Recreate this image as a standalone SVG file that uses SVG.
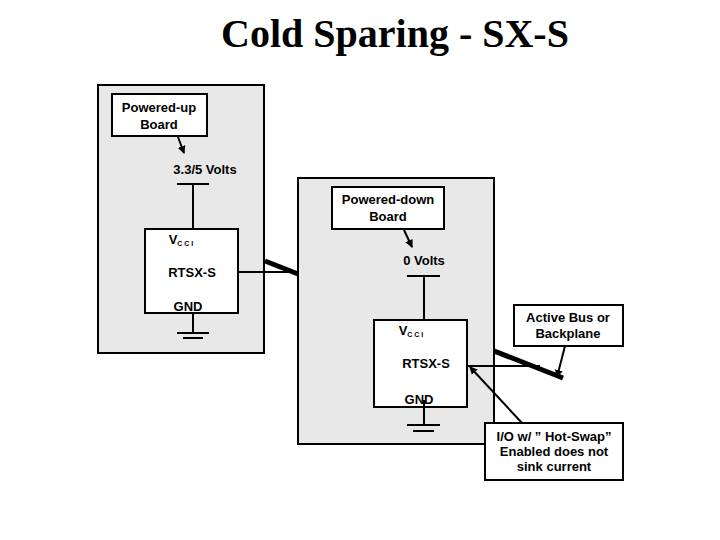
<svg xmlns="http://www.w3.org/2000/svg" width="720" height="540" viewBox="0 0 720 540">
<style>
.pan{fill:#e8e8e8;stroke:#000;stroke-width:2}
.box{fill:#fff;stroke:#000;stroke-width:2}
.t{font-family:"Liberation Sans",Arial,sans-serif;font-size:13px;font-weight:bold;text-anchor:middle;fill:#000}
.w{stroke:#000;stroke-width:2;fill:none}
.sub{font-size:7px}
</style>
<defs>
<marker id="ah" markerWidth="8" markerHeight="8" refX="7" refY="4" orient="auto" markerUnits="userSpaceOnUse"><path d="M0,0 L8,4 L0,8 z" fill="#000"/></marker>
</defs>
<rect width="720" height="540" fill="#fff"/>
<text x="395" y="47" font-family="Liberation Serif,serif" font-size="40" font-weight="bold" text-anchor="middle">Cold Sparing - SX-S</text>
<g id="bus"><line x1="265" y1="261" x2="563" y2="378" stroke="#000" stroke-width="5"/></g>
<g id="left-board">
<rect class="pan" x="98" y="85" width="166" height="268"/>
<rect class="box" x="112" y="94" width="95" height="42"/>
<text class="t" x="159" y="112">Powered-up</text><text class="t" x="159" y="129">Board</text>
<text class="t" x="205" y="174">3.3/5 Volts</text>
<rect class="box" x="145" y="229" width="93" height="84"/>
<text class="t" x="181" y="244">V<tspan class="sub" dy="2">C C I</tspan></text>
<text class="t" x="192" y="277">RTSX-S</text>
<text class="t" x="188" y="311">GND</text>
</g>
<g id="right-board">
<rect class="pan" x="298" y="178" width="196" height="266"/>
<rect class="box" x="332" y="187" width="112" height="42"/>
<text class="t" x="388" y="204">Powered-down</text><text class="t" x="388" y="221">Board</text>
<text class="t" x="424" y="265">0 Volts</text>
<rect class="box" x="374" y="320" width="93" height="87"/>
<text class="t" x="411" y="335">V<tspan class="sub" dy="2">C C I</tspan></text>
<text class="t" x="426" y="368">RTSX-S</text>
<text class="t" x="419" y="404">GND</text>
</g>
<g id="active-bus"><rect class="box" x="514" y="305" width="109" height="41"/>
<text class="t" x="568" y="322">Active Bus or</text><text class="t" x="568" y="338">Backplane</text></g>
<g id="io-note"><rect class="box" x="485" y="423" width="138" height="57"/>
<text class="t" x="554" y="441">I/O w/ ” Hot-Swap”</text><text class="t" x="554" y="456">Enabled does not</text><text class="t" x="554" y="471">sink current</text></g>
<g id="connectors">
<line class="w" x1="178" y1="137" x2="184" y2="153" marker-end="url(#ah)"/>
<line class="w" x1="177" y1="184" x2="209" y2="184"/><line class="w" x1="193" y1="184" x2="193" y2="229"/>
<line class="w" x1="193" y1="313" x2="193" y2="333"/><line class="w" x1="177" y1="333" x2="209" y2="333"/><line class="w" x1="183" y1="338" x2="203" y2="338"/>
<line class="w" x1="238" y1="272" x2="298" y2="272"/>
<line class="w" x1="404" y1="230" x2="412" y2="247" marker-end="url(#ah)"/>
<line class="w" x1="407" y1="276" x2="440" y2="276"/><line class="w" x1="424" y1="276" x2="424" y2="320"/>
<line class="w" x1="424" y1="400" x2="424" y2="425"/><line class="w" x1="407" y1="425" x2="440" y2="425"/><line class="w" x1="413" y1="431" x2="434" y2="431"/>
<line class="w" x1="467" y1="366" x2="540" y2="366"/>
<line class="w" x1="565" y1="346" x2="557" y2="377" marker-end="url(#ah)"/>
<line class="w" x1="522" y1="423" x2="470" y2="367" marker-end="url(#ah)"/>
</g>
</svg>
